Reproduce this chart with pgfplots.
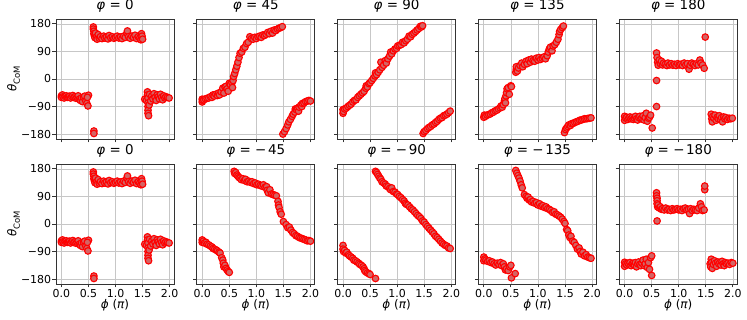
\documentclass[border=0pt]{standalone}
\usepackage{fontspec}
\setmainfont{DejaVu Sans}
\usepackage{pgfplots}
\usepackage{pgfplotstable}
\pgfplotsset{compat=1.18}
\definecolor{dotfill}{RGB}{212,100,100}

\pgfplotstableread[row sep=\\]{x y\\
0.00 -55\\ 0.00 -60\\ 0.02 -52\\ 0.03 -58\\ 0.05 -62\\ 0.07 -57\\ 0.09 -55\\ 0.11 -60\\ 0.13 -58\\ 0.15 -56\\ 0.17 -62\\ 0.19 -57\\ 0.21 -54\\ 0.23 -60\\ 0.25 -58\\ 0.27 -63\\ 0.29 -60\\ 0.31 -55\\ 0.33 -66\\ 0.35 -70\\ 0.37 -62\\ 0.39 -74\\ 0.41 -60\\ 0.43 -56\\ 0.45 -72\\ 0.47 -80\\ 0.49 -88\\ 0.50 -53\\ 0.48 -60\\
0.60 -170\\ 0.60 -178\\
0.59 170\\ 0.59 163\\ 0.60 156\\ 0.60 148\\ 0.61 141\\ 0.62 135\\ 0.63 150\\ 0.65 138\\ 0.66 130\\ 0.68 145\\ 0.70 133\\ 0.72 138\\ 0.75 132\\ 0.78 140\\ 0.80 134\\ 0.83 137\\ 0.86 131\\ 0.88 142\\ 0.91 135\\ 0.94 138\\ 0.97 133\\ 1.00 136\\ 1.03 140\\ 1.06 134\\ 1.09 137\\ 1.12 132\\ 1.15 140\\ 1.18 136\\ 1.21 150\\ 1.22 157\\ 1.24 138\\ 1.27 133\\ 1.30 140\\ 1.33 136\\ 1.36 143\\ 1.39 132\\ 1.42 138\\ 1.45 135\\ 1.47 128\\ 1.48 148\\ 1.49 140\\ 1.50 130\\
1.54 -66\\ 1.57 -70\\ 1.59 -42\\ 1.59 -52\\ 1.60 -62\\ 1.60 -78\\ 1.60 -90\\ 1.60 -102\\ 1.60 -112\\ 1.61 -120\\ 1.62 -85\\ 1.63 -50\\ 1.65 -72\\ 1.67 -55\\ 1.69 -65\\ 1.71 -48\\ 1.73 -60\\ 1.75 -70\\ 1.77 -52\\ 1.79 -58\\ 1.81 -65\\ 1.83 -50\\ 1.85 -60\\ 1.87 -68\\ 1.89 -55\\ 1.91 -62\\ 1.93 -58\\ 1.96 -60\\ 1.99 -62\\
}\tabZero

\pgfplotstableread[row sep=\\]{x y\\
0.00 -75\\ 0.00 -66\\ 0.01 -70\\ 0.03 -68\\ 0.06 -65\\ 0.09 -63\\ 0.12 -62\\ 0.15 -58\\ 0.18 -60\\ 0.20 -52\\ 0.22 -56\\ 0.25 -50\\ 0.28 -54\\ 0.30 -46\\ 0.32 -52\\ 0.35 -42\\ 0.38 -30\\ 0.40 -46\\ 0.42 -26\\ 0.44 -24\\ 0.46 -32\\ 0.48 -40\\ 0.50 -14\\ 0.52 -18\\ 0.55 -12\\ 0.56 -28\\ 0.57 -5\\ 0.58 8\\ 0.60 18\\ 0.62 30\\ 0.64 42\\ 0.66 55\\ 0.68 70\\ 0.70 84\\ 0.73 88\\ 0.76 100\\ 0.79 104\\ 0.82 116\\ 0.85 120\\ 0.88 138\\ 0.91 132\\ 0.94 130\\ 0.97 136\\ 1.00 132\\ 1.03 138\\ 1.06 140\\ 1.09 136\\ 1.12 144\\ 1.15 142\\ 1.18 146\\ 1.21 152\\ 1.24 148\\ 1.27 156\\ 1.30 150\\ 1.33 160\\ 1.36 158\\ 1.39 163\\ 1.42 166\\ 1.45 168\\ 1.48 171\\
1.49 -180\\ 1.52 -172\\ 1.55 -162\\ 1.58 -150\\ 1.60 -140\\ 1.63 -132\\ 1.66 -122\\ 1.68 -115\\ 1.71 -108\\ 1.72 -98\\ 1.74 -100\\ 1.76 -95\\ 1.78 -105\\ 1.79 -92\\ 1.82 -86\\ 1.84 -90\\ 1.85 -80\\ 1.88 -78\\ 1.91 -74\\ 1.94 -72\\ 1.97 -70\\ 2.00 -72\\
}\tabP

\pgfplotstableread[row sep=\\]{x y\\
0.00 -112\\ 0.00 -100\\ 0.01 -106\\ 0.03 -98\\ 0.06 -95\\ 0.09 -90\\ 0.12 -86\\ 0.15 -82\\ 0.18 -75\\ 0.21 -70\\ 0.24 -68\\ 0.27 -60\\ 0.30 -55\\ 0.33 -50\\ 0.36 -45\\ 0.39 -40\\ 0.42 -30\\ 0.43 -22\\ 0.45 -26\\ 0.48 -15\\ 0.50 -12\\ 0.53 -5\\ 0.56 2\\ 0.59 10\\ 0.60 20\\ 0.62 14\\ 0.65 22\\ 0.68 30\\ 0.70 55\\ 0.72 38\\ 0.75 45\\ 0.78 60\\ 0.80 52\\ 0.83 66\\ 0.86 75\\ 0.88 88\\ 0.90 82\\ 0.93 92\\ 0.96 98\\ 0.99 100\\ 1.01 108\\ 1.04 110\\ 1.07 112\\ 1.10 120\\ 1.13 118\\ 1.16 125\\ 1.19 130\\ 1.22 140\\ 1.25 138\\ 1.28 146\\ 1.31 150\\ 1.34 155\\ 1.37 160\\ 1.40 165\\ 1.43 172\\ 1.45 170\\ 1.47 174\\
1.48 -178\\ 1.50 -172\\ 1.53 -168\\ 1.56 -162\\ 1.59 -158\\ 1.62 -155\\ 1.65 -150\\ 1.68 -147\\ 1.71 -142\\ 1.74 -138\\ 1.77 -132\\ 1.80 -128\\ 1.83 -126\\ 1.86 -120\\ 1.89 -118\\ 1.92 -115\\ 1.95 -110\\ 1.98 -105\\
}\tabPP

\pgfplotstableread[row sep=\\]{x y\\
0.00 -125\\ 0.01 -118\\ 0.03 -122\\ 0.06 -118\\ 0.09 -116\\ 0.12 -114\\ 0.15 -110\\ 0.18 -108\\ 0.21 -104\\ 0.24 -102\\ 0.27 -98\\ 0.30 -94\\ 0.32 -88\\ 0.34 -92\\ 0.36 -84\\ 0.38 -72\\ 0.39 -64\\ 0.40 -78\\ 0.41 -55\\ 0.42 -45\\ 0.43 -32\\ 0.45 -28\\ 0.47 -50\\ 0.50 -22\\ 0.51 -25\\
0.59 22\\ 0.60 32\\ 0.60 40\\ 0.62 26\\ 0.64 36\\ 0.67 44\\ 0.70 52\\ 0.72 40\\ 0.75 48\\ 0.78 58\\ 0.80 50\\ 0.83 62\\ 0.86 55\\ 0.88 65\\ 0.91 60\\ 0.94 58\\ 0.97 68\\ 1.00 62\\ 1.02 70\\ 1.05 64\\ 1.08 68\\ 1.11 72\\ 1.14 66\\ 1.17 76\\ 1.19 88\\ 1.21 98\\ 1.23 104\\ 1.26 92\\ 1.28 108\\ 1.31 112\\ 1.34 120\\ 1.37 130\\ 1.39 145\\ 1.40 155\\ 1.42 162\\ 1.45 168\\ 1.47 173\\
1.49 -175\\ 1.51 -165\\ 1.53 -160\\ 1.55 -155\\ 1.57 -150\\ 1.60 -152\\ 1.62 -146\\ 1.65 -145\\ 1.68 -142\\ 1.71 -140\\ 1.74 -138\\ 1.77 -135\\ 1.80 -134\\ 1.83 -132\\ 1.86 -130\\ 1.89 -130\\ 1.92 -129\\ 1.95 -128\\ 1.98 -127\\
}\tabPPP

\pgfplotstableread[row sep=\\]{x y\\
0.00 -122\\ 0.00 -135\\ 0.02 -128\\ 0.04 -125\\ 0.06 -132\\ 0.08 -128\\ 0.10 -124\\ 0.12 -130\\ 0.14 -126\\ 0.16 -132\\ 0.18 -128\\ 0.20 -122\\ 0.22 -130\\ 0.24 -134\\ 0.26 -126\\ 0.28 -122\\ 0.30 -130\\ 0.32 -128\\ 0.34 -120\\ 0.36 -134\\ 0.38 -126\\ 0.40 -112\\ 0.42 -138\\ 0.44 -128\\ 0.46 -125\\ 0.48 -118\\ 0.51 -160\\
0.59 -90\\ 0.59 -5\\ 0.59 85\\
0.60 70\\ 0.61 55\\ 0.62 45\\ 0.64 62\\ 0.66 50\\ 0.68 58\\ 0.70 46\\ 0.72 52\\ 0.75 48\\ 0.78 44\\ 0.80 52\\ 0.83 46\\ 0.86 50\\ 0.89 45\\ 0.92 48\\ 0.95 44\\ 0.98 50\\ 1.01 46\\ 1.04 48\\ 1.07 44\\ 1.10 52\\ 1.13 46\\ 1.16 50\\ 1.19 32\\ 1.21 45\\ 1.24 52\\ 1.27 48\\ 1.30 44\\ 1.33 50\\ 1.36 46\\ 1.39 62\\ 1.41 52\\ 1.44 46\\ 1.47 35\\ 1.49 137\\
1.60 -115\\ 1.61 -130\\ 1.62 -140\\ 1.63 -122\\ 1.65 -128\\ 1.67 -118\\ 1.69 -135\\ 1.71 -125\\ 1.73 -130\\ 1.75 -120\\ 1.77 -132\\ 1.79 -126\\ 1.81 -140\\ 1.83 -124\\ 1.85 -130\\ 1.87 -126\\ 1.90 -132\\ 1.93 -128\\ 1.96 -130\\ 1.99 -128\\
}\tabPPPP

\pgfplotstableread[row sep=\\]{x y\\
0.00 -52\\ 0.00 -60\\ 0.02 -56\\ 0.04 -62\\ 0.07 -60\\ 0.09 -66\\ 0.12 -68\\ 0.15 -72\\ 0.18 -75\\ 0.20 -80\\ 0.23 -82\\ 0.26 -85\\ 0.28 -88\\ 0.31 -92\\ 0.33 -95\\ 0.36 -110\\ 0.38 -118\\ 0.39 -128\\ 0.40 -140\\ 0.42 -135\\ 0.44 -145\\ 0.46 -150\\ 0.48 -155\\ 0.50 -158\\
0.59 172\\ 0.60 165\\ 0.62 168\\ 0.64 160\\ 0.66 156\\ 0.68 152\\ 0.70 150\\ 0.72 145\\ 0.75 148\\ 0.78 142\\ 0.80 146\\ 0.83 138\\ 0.86 140\\ 0.89 136\\ 0.92 138\\ 0.95 132\\ 0.98 134\\ 1.01 128\\ 1.04 130\\ 1.07 126\\ 1.10 124\\ 1.13 128\\ 1.16 120\\ 1.19 122\\ 1.20 110\\ 1.22 102\\ 1.25 112\\ 1.28 98\\ 1.31 96\\ 1.34 94\\ 1.37 92\\ 1.40 74\\ 1.41 62\\ 1.42 54\\ 1.44 40\\ 1.46 32\\ 1.50 8\\ 1.55 -2\\ 1.58 -12\\ 1.61 -10\\ 1.64 -20\\ 1.67 -28\\ 1.70 -32\\ 1.73 -38\\ 1.76 -40\\ 1.79 -44\\ 1.82 -46\\ 1.85 -48\\ 1.88 -50\\ 1.91 -52\\ 1.94 -55\\ 1.97 -54\\ 2.00 -56\\
}\tabM

\pgfplotstableread[row sep=\\]{x y\\
0.00 -70\\ 0.00 -82\\ 0.01 -90\\ 0.03 -86\\ 0.05 -95\\ 0.07 -92\\ 0.10 -100\\ 0.12 -104\\ 0.15 -108\\ 0.18 -112\\ 0.20 -118\\ 0.23 -120\\ 0.26 -124\\ 0.29 -128\\ 0.31 -132\\ 0.34 -135\\ 0.37 -140\\ 0.39 -146\\ 0.40 -152\\ 0.42 -156\\ 0.45 -160\\ 0.48 -162\\ 0.50 -165\\ 0.60 -178\\
0.60 172\\ 0.62 168\\ 0.64 162\\ 0.66 156\\ 0.68 150\\ 0.70 146\\ 0.72 138\\ 0.75 134\\ 0.78 130\\ 0.80 124\\ 0.83 122\\ 0.86 116\\ 0.88 112\\ 0.90 118\\ 0.93 106\\ 0.96 104\\ 0.99 98\\ 1.01 96\\ 1.04 90\\ 1.07 86\\ 1.10 80\\ 1.13 75\\ 1.15 68\\ 1.17 64\\ 1.20 62\\ 1.23 56\\ 1.26 50\\ 1.29 46\\ 1.32 40\\ 1.35 34\\ 1.38 28\\ 1.41 24\\ 1.44 18\\ 1.47 10\\ 1.50 6\\ 1.53 -2\\ 1.56 -8\\ 1.59 -14\\ 1.62 -20\\ 1.65 -26\\ 1.68 -32\\ 1.71 -40\\ 1.74 -44\\ 1.77 -50\\ 1.80 -56\\ 1.83 -62\\ 1.86 -66\\ 1.89 -70\\ 1.92 -72\\ 1.95 -78\\ 1.98 -80\\
}\tabMM

\pgfplotstableread[row sep=\\]{x y\\
0.00 -108\\ 0.00 -120\\ 0.02 -114\\ 0.04 -118\\ 0.07 -122\\ 0.10 -120\\ 0.13 -126\\ 0.16 -124\\ 0.19 -130\\ 0.22 -134\\ 0.25 -128\\ 0.28 -132\\ 0.31 -126\\ 0.33 -136\\ 0.36 -130\\ 0.38 -140\\ 0.40 -150\\ 0.42 -146\\ 0.45 -152\\ 0.48 -140\\ 0.50 -135\\ 0.51 -176\\ 0.58 -162\\
0.59 175\\ 0.61 166\\ 0.63 158\\ 0.65 150\\ 0.67 140\\ 0.69 128\\ 0.71 118\\ 0.75 96\\ 0.78 90\\ 0.80 84\\ 0.82 88\\ 0.84 78\\ 0.86 80\\ 0.88 72\\ 0.91 74\\ 0.94 68\\ 0.97 70\\ 1.00 62\\ 1.03 66\\ 1.06 58\\ 1.09 60\\ 1.12 54\\ 1.15 56\\ 1.18 50\\ 1.21 48\\ 1.24 44\\ 1.27 38\\ 1.30 40\\ 1.33 32\\ 1.36 30\\ 1.39 26\\ 1.42 22\\ 1.45 16\\ 1.48 8\\ 1.50 2\\ 1.53 -18\\ 1.55 -22\\ 1.57 -36\\ 1.59 -44\\ 1.61 -40\\ 1.64 -56\\ 1.67 -60\\ 1.70 -70\\ 1.73 -82\\ 1.76 -78\\ 1.78 -90\\ 1.80 -98\\ 1.83 -92\\ 1.86 -104\\ 1.89 -100\\ 1.92 -108\\ 1.95 -110\\ 1.98 -112\\
}\tabMMM

\pgfplotstableread[row sep=\\]{x y\\
0.00 -125\\ 0.00 -138\\ 0.02 -130\\ 0.04 -134\\ 0.06 -128\\ 0.08 -132\\ 0.10 -126\\ 0.12 -136\\ 0.14 -130\\ 0.16 -128\\ 0.18 -134\\ 0.20 -126\\ 0.22 -140\\ 0.24 -130\\ 0.26 -124\\ 0.28 -132\\ 0.30 -136\\ 0.32 -128\\ 0.34 -118\\ 0.36 -136\\ 0.38 -130\\ 0.40 -115\\ 0.42 -142\\ 0.44 -126\\ 0.46 -148\\ 0.48 -110\\ 0.50 -104\\ 0.50 -168\\
0.59 102\\ 0.59 92\\ 0.60 84\\ 0.60 76\\ 0.60 66\\ 0.61 56\\ 0.60 10\\ 0.62 62\\ 0.64 52\\ 0.66 56\\ 0.68 48\\ 0.70 50\\ 0.73 46\\ 0.76 52\\ 0.79 46\\ 0.82 48\\ 0.85 44\\ 0.88 50\\ 0.91 46\\ 0.94 48\\ 0.97 50\\ 1.00 46\\ 1.03 48\\ 1.06 44\\ 1.09 50\\ 1.12 52\\ 1.15 46\\ 1.18 48\\ 1.20 34\\ 1.22 50\\ 1.25 44\\ 1.28 48\\ 1.31 46\\ 1.34 44\\ 1.37 52\\ 1.40 66\\ 1.42 56\\ 1.44 44\\ 1.47 46\\ 1.48 112\\ 1.48 124\\
1.58 -130\\ 1.59 -140\\ 1.60 -115\\ 1.61 -125\\ 1.62 -145\\ 1.64 -132\\ 1.66 -120\\ 1.68 -128\\ 1.70 -138\\ 1.72 -124\\ 1.74 -130\\ 1.76 -126\\ 1.78 -134\\ 1.80 -122\\ 1.82 -130\\ 1.84 -136\\ 1.86 -126\\ 1.88 -130\\ 1.91 -128\\ 1.94 -132\\ 1.97 -126\\ 2.00 -128\\
}\tabMMMM

\pgfplotsset{
  panel/.style={
    scale only axis, width=118bp, height=120bp,
    xmin=-0.1, xmax=2.08, ymin=-196, ymax=196,
    xtick={0,0.5,1,1.5,2}, ytick={-180,-90,0,90,180},
    xticklabels={}, yticklabels={},
    grid=major, major grid style={black!22, line width=0.7bp},
    axis line style={black!80, line width=0.8bp},
    tick align=outside, tick pos=left,
    major tick length=3.5bp,
    every tick/.style={black!80, line width=0.8bp},
    tick label style={font=\fontsize{11}{13}\selectfont},
    xticklabel style={inner sep=2bp},
    yticklabel style={inner sep=1.2bp},
    title style={at={(axis description cs:0.5,1)}, anchor=base, yshift=3.6bp, font=\fontsize{13.5}{16}\selectfont},
    anchor=north west,
  },
  firstcol/.style={
    yticklabels={−180,−90,0,90,180},
    ylabel={{\itshape θ}\raisebox{-0.3em}{\fontsize{8.5}{9}\selectfont CoM}},
    ylabel style={at={(axis description cs:-0.36,0.5)}, anchor=center, font=\fontsize{12}{14}\selectfont},
  },
  bottomrow/.style={
    xticklabels={0.0,0.5,1.0,1.5,2.0},
    xlabel={{\itshape ϕ} ({\itshape π})},
    xlabel style={at={(axis description cs:0.5,-0.18)}, anchor=center, font=\fontsize{12}{14}\selectfont},
  },
  dots/.style={only marks, mark=*, mark size=3.3bp,
    mark options={draw=red, fill=dotfill, line width=1.1bp}},
}

\begin{document}
\begin{tikzpicture}
\useasboundingbox (0,0) rectangle (747bp,320bp);
% top row
\begin{axis}[panel, firstcol, at={(56bp,301bp)}, title={{\itshape φ} = 0}]
\addplot[dots] table {\tabZero};
\end{axis}
\begin{axis}[panel, at={(196.8bp,301bp)}, title={{\itshape φ} = 45}]
\addplot[dots] table {\tabP};
\end{axis}
\begin{axis}[panel, at={(337.6bp,301bp)}, title={{\itshape φ} = 90}]
\addplot[dots] table {\tabPP};
\end{axis}
\begin{axis}[panel, at={(478.4bp,301bp)}, title={{\itshape φ} = 135}]
\addplot[dots] table {\tabPPP};
\end{axis}
\begin{axis}[panel, at={(619.2bp,301bp)}, title={{\itshape φ} = 180}]
\addplot[dots] table {\tabPPPP};
\end{axis}
% bottom row
\begin{axis}[panel, firstcol, bottomrow, at={(56bp,156bp)}, title={{\itshape φ} = 0}]
\addplot[dots] table {\tabZero};
\end{axis}
\begin{axis}[panel, bottomrow, at={(196.8bp,156bp)}, title={{\itshape φ} = −\hspace{0.12em}45}]
\addplot[dots] table {\tabM};
\end{axis}
\begin{axis}[panel, bottomrow, at={(337.6bp,156bp)}, title={{\itshape φ} = −\hspace{0.12em}90}]
\addplot[dots] table {\tabMM};
\end{axis}
\begin{axis}[panel, bottomrow, at={(478.4bp,156bp)}, title={{\itshape φ} = −\hspace{0.12em}135}]
\addplot[dots] table {\tabMMM};
\end{axis}
\begin{axis}[panel, bottomrow, at={(619.2bp,156bp)}, title={{\itshape φ} = −\hspace{0.12em}180}]
\addplot[dots] table {\tabMMMM};
\end{axis}
\end{tikzpicture}
\end{document}
